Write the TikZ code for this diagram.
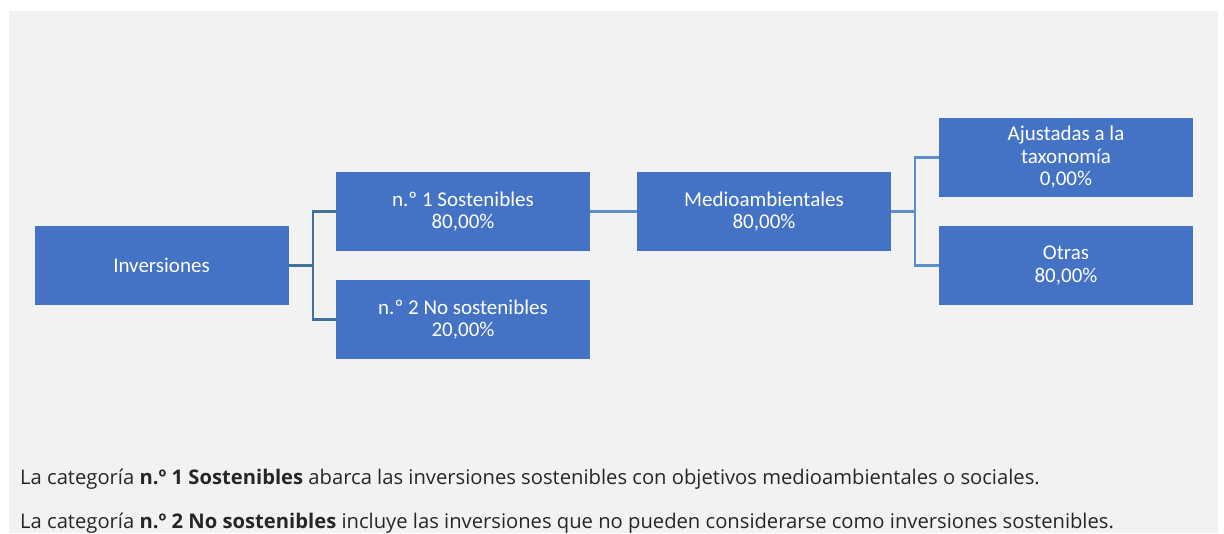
\documentclass[tikz,border=0pt]{standalone}
\usepackage{fontspec}
\setmainfont{Open Sans}
\newfontfamily\boxfont{Carlito}
\usepackage{tikz}
\definecolor{boxblue}{HTML}{4472C4}
\definecolor{linkdark}{HTML}{41719C}
\definecolor{linklight}{HTML}{5B8FCB}
\definecolor{panel}{HTML}{F2F2F2}
\tikzset{%
  catbox/.style={draw=none,fill=boxblue,text=white,minimum width=254,minimum height=79,
    inner sep=0,align=center,font=\boxfont\fontsize{21}{22.5}\selectfont},
  link/.style={draw=linkdark,line width=2.2},
  sublink/.style={draw=linklight,line width=2.2},
  note/.style={anchor=base west,inner sep=0,font=\fontsize{20.2}{24}\selectfont,text=black!85}
}

\begin{document}
\begin{tikzpicture}[x=1pt,y=-1pt]
    \useasboundingbox (0,0) rectangle (1224,533);
    \fill[panel] (9,11) rectangle (1218,533);
    \node[catbox] (inv) at (161.5,265.5) {Inversiones};
    \node[catbox] (sost) at (463,211.5) {n.º 1 Sostenibles\\80,00\%};
    \node[catbox] (nosost) at (463,319.5) {n.º 2 No sostenibles\\20,00\%};
    \node[catbox] (medio) at (764,211.5) {Medioambientales\\80,00\%};
    \node[catbox] (tax) at (1066,157.5) {Ajustadas a la\\taxonomía\\0,00\%};
    \node[catbox] (otras) at (1066,265.5) {Otras\\80,00\%};
    \draw[link] (inv.east) -- ++(24,0) |- (sost.west);
    \draw[link] (inv.east) -- ++(24,0) |- (nosost.west);
    \draw[sublink] (sost.east) -- (medio.west);
    \draw[sublink] (medio.east) -- ++(24,0) |- (tax.west);
    \draw[sublink] (medio.east) -- ++(24,0) |- (otras.west);
    \node[note] (note1) at (20,484) {La categoría \textbf{n.º 1 Sostenibles} abarca las inversiones sostenibles con objetivos medioambientales o sociales.};
    \node[note] (note2) at (20,528) {La categoría \textbf{n.º 2 No sostenibles} incluye las inversiones que no pueden considerarse como inversiones sostenibles.};
  \end{tikzpicture}
\end{document}
